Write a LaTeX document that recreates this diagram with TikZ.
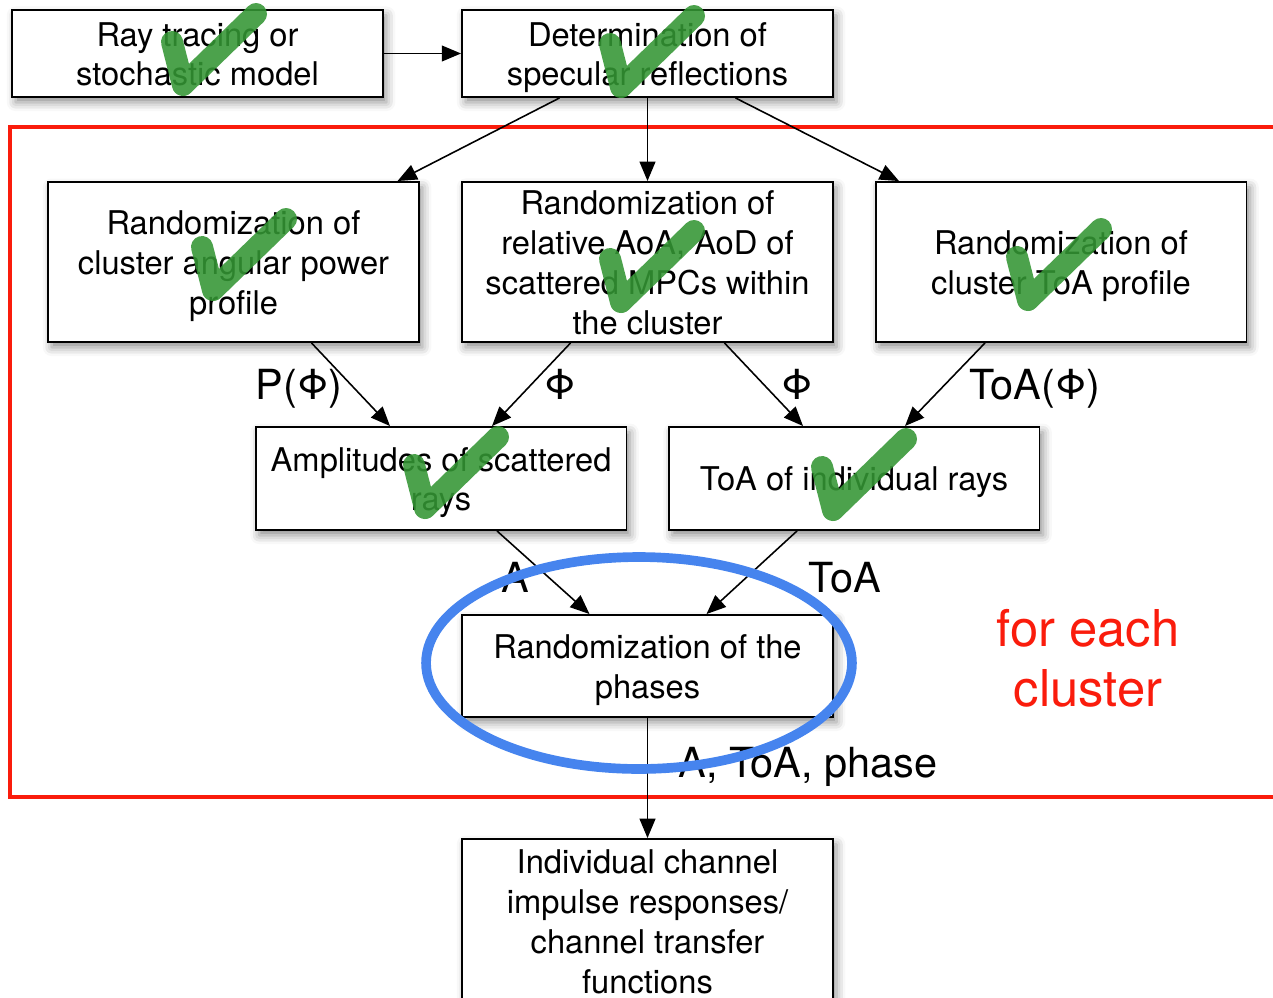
\documentclass[tikz,border=0pt]{standalone}
\usepackage{fontspec}
\setmainfont{TeX Gyre Heros}
\usepackage{xcolor}
\usepackage{tikz}
\usetikzlibrary{arrows.meta,calc,shadows.blur}
\definecolor{frame}{RGB}{250,28,12}
\definecolor{ringblue}{RGB}{70,132,238}
\definecolor{okgreen}{RGB}{52,150,52}
\newcommand{\bxtop}{\rule{0pt}{18.6pt}}

\begin{document}
\begin{tikzpicture}[x=0.02cm,y=-0.02cm,
  blk/.style={draw,line width=1.1pt,fill=white,minimum width=7.42cm,align=center,
    inner sep=0pt,font=\fontsize{18.6}{22.7}\selectfont,
    execute at end node={\rule[-4.4pt]{0pt}{0pt}},
    blur shadow={shadow xshift=2pt,shadow yshift=-3pt,shadow blur radius=5pt,shadow opacity=45}},
  lbl/.style={anchor=base,font=\fontsize{23.6}{27}\selectfont},
  arr/.style={-{Triangle[length=11pt,width=9pt]},line width=0.9pt},
  okmark/.pic={\draw[okgreen,opacity=.88,line width=0.44cm,line cap=round,line join=round]
    (-11,-43) -- (0,0) -- (73,-71);}]
  \useasboundingbox (0,0) rectangle (1273,997);

  % cluster frame
  \draw[frame,line width=2.3pt] (1290,127) -- (10,127) -- (10,797) -- (1290,797);
  \node[frame,align=center,font=\fontsize{28.9}{34}\selectfont] (each) at (1088,658)
    {for each\\cluster};

  % boxes
  \node[blk,minimum height=1.74cm] (ray) at (197.5,53.5) {\bxtop Ray tracing or\\stochastic model};
  \node[blk,minimum height=1.74cm] (spec) at (647.5,53.5) {\bxtop Determination of\\specular reflections};
  \node[blk,minimum height=3.2cm] (clap) at (233.5,262)
    {\bxtop Randomization of\\cluster angular power\\profile};
  \node[blk,minimum height=3.2cm] (rel) at (647.5,262)
    {\bxtop Randomization of\\relative AoA, AoD of\\scattered MPCs within\\the cluster};
  \node[blk,minimum height=3.2cm] (ctoa) at (1061,262)
    {\bxtop Randomization of\\cluster ToA profile};
  \node[blk,minimum height=2.06cm] (ampl) at (441,478.5) {\bxtop Amplitudes of scattered\\rays};
  \node[blk,minimum height=2.06cm] (toar) at (854,478.5) {\bxtop ToA of individual rays};
  \node[blk,minimum height=2.04cm] (phase) at (647.5,666) {\bxtop Randomization of the\\phases};
  \node[blk,minimum height=3.28cm] (chan) at (647.5,921)
    {\bxtop Individual channel\\impulse responses/\\channel transfer\\functions};

  % connectors
  \draw[arr] (ray) -- (spec);
  \draw[arr] ($(spec.south)+(-88,0)$) -- ($(clap.north)+(164,0)$);
  \draw[arr] (spec) -- (rel);
  \draw[arr] ($(spec.south)+(88,0)$) -- ($(ctoa.north)+(-162,0)$);
  \draw[arr] ($(clap.south)+(78,0)$) -- ($(ampl.north)+(-51,0)$);
  \draw[arr] ($(rel.south)+(-77,0)$) -- ($(ampl.north)+(51,0)$);
  \draw[arr] ($(rel.south)+(77,0)$) -- ($(toar.north)+(-51,0)$);
  \draw[arr] ($(ctoa.south)+(-76,0)$) -- ($(toar.north)+(51,0)$);
  \draw[arr] ($(ampl.south)+(56,0)$) -- ($(phase.north)+(-58,0)$);
  \draw[arr] ($(toar.south)+(-57,0)$) -- ($(phase.north)+(59,0)$);
  \draw[arr] (phase) -- (chan);

  % labels
  \node[lbl] (lpow) at (299,399) {P(Φ)};
  \node[lbl] (lphia) at (560,399) {Φ};
  \node[lbl] (lphib) at (797,399) {Φ};
  \node[lbl] (ltoap) at (1035,399) {ToA(Φ)};
  \node[lbl] (lamp) at (515,592) {A};
  \node[lbl] (ltoa) at (845,592) {ToA};
  \node[lbl] (lall) at (808,777) {A, ToA, phase};

  % ticks
  \pic at (183,85) {okmark};
  \pic at (621,87) {okmark};
  \pic at (213,290) {okmark};
  \pic at (621,302) {okmark};
  \pic at (1028,300) {okmark};
  \pic at (425,508) {okmark};
  \pic at (833,510) {okmark};

  % highlight
  \draw[ringblue,line width=5.5pt] (639,663) ellipse [x radius=4.26cm,y radius=2.12cm];
\end{tikzpicture}
\end{document}
